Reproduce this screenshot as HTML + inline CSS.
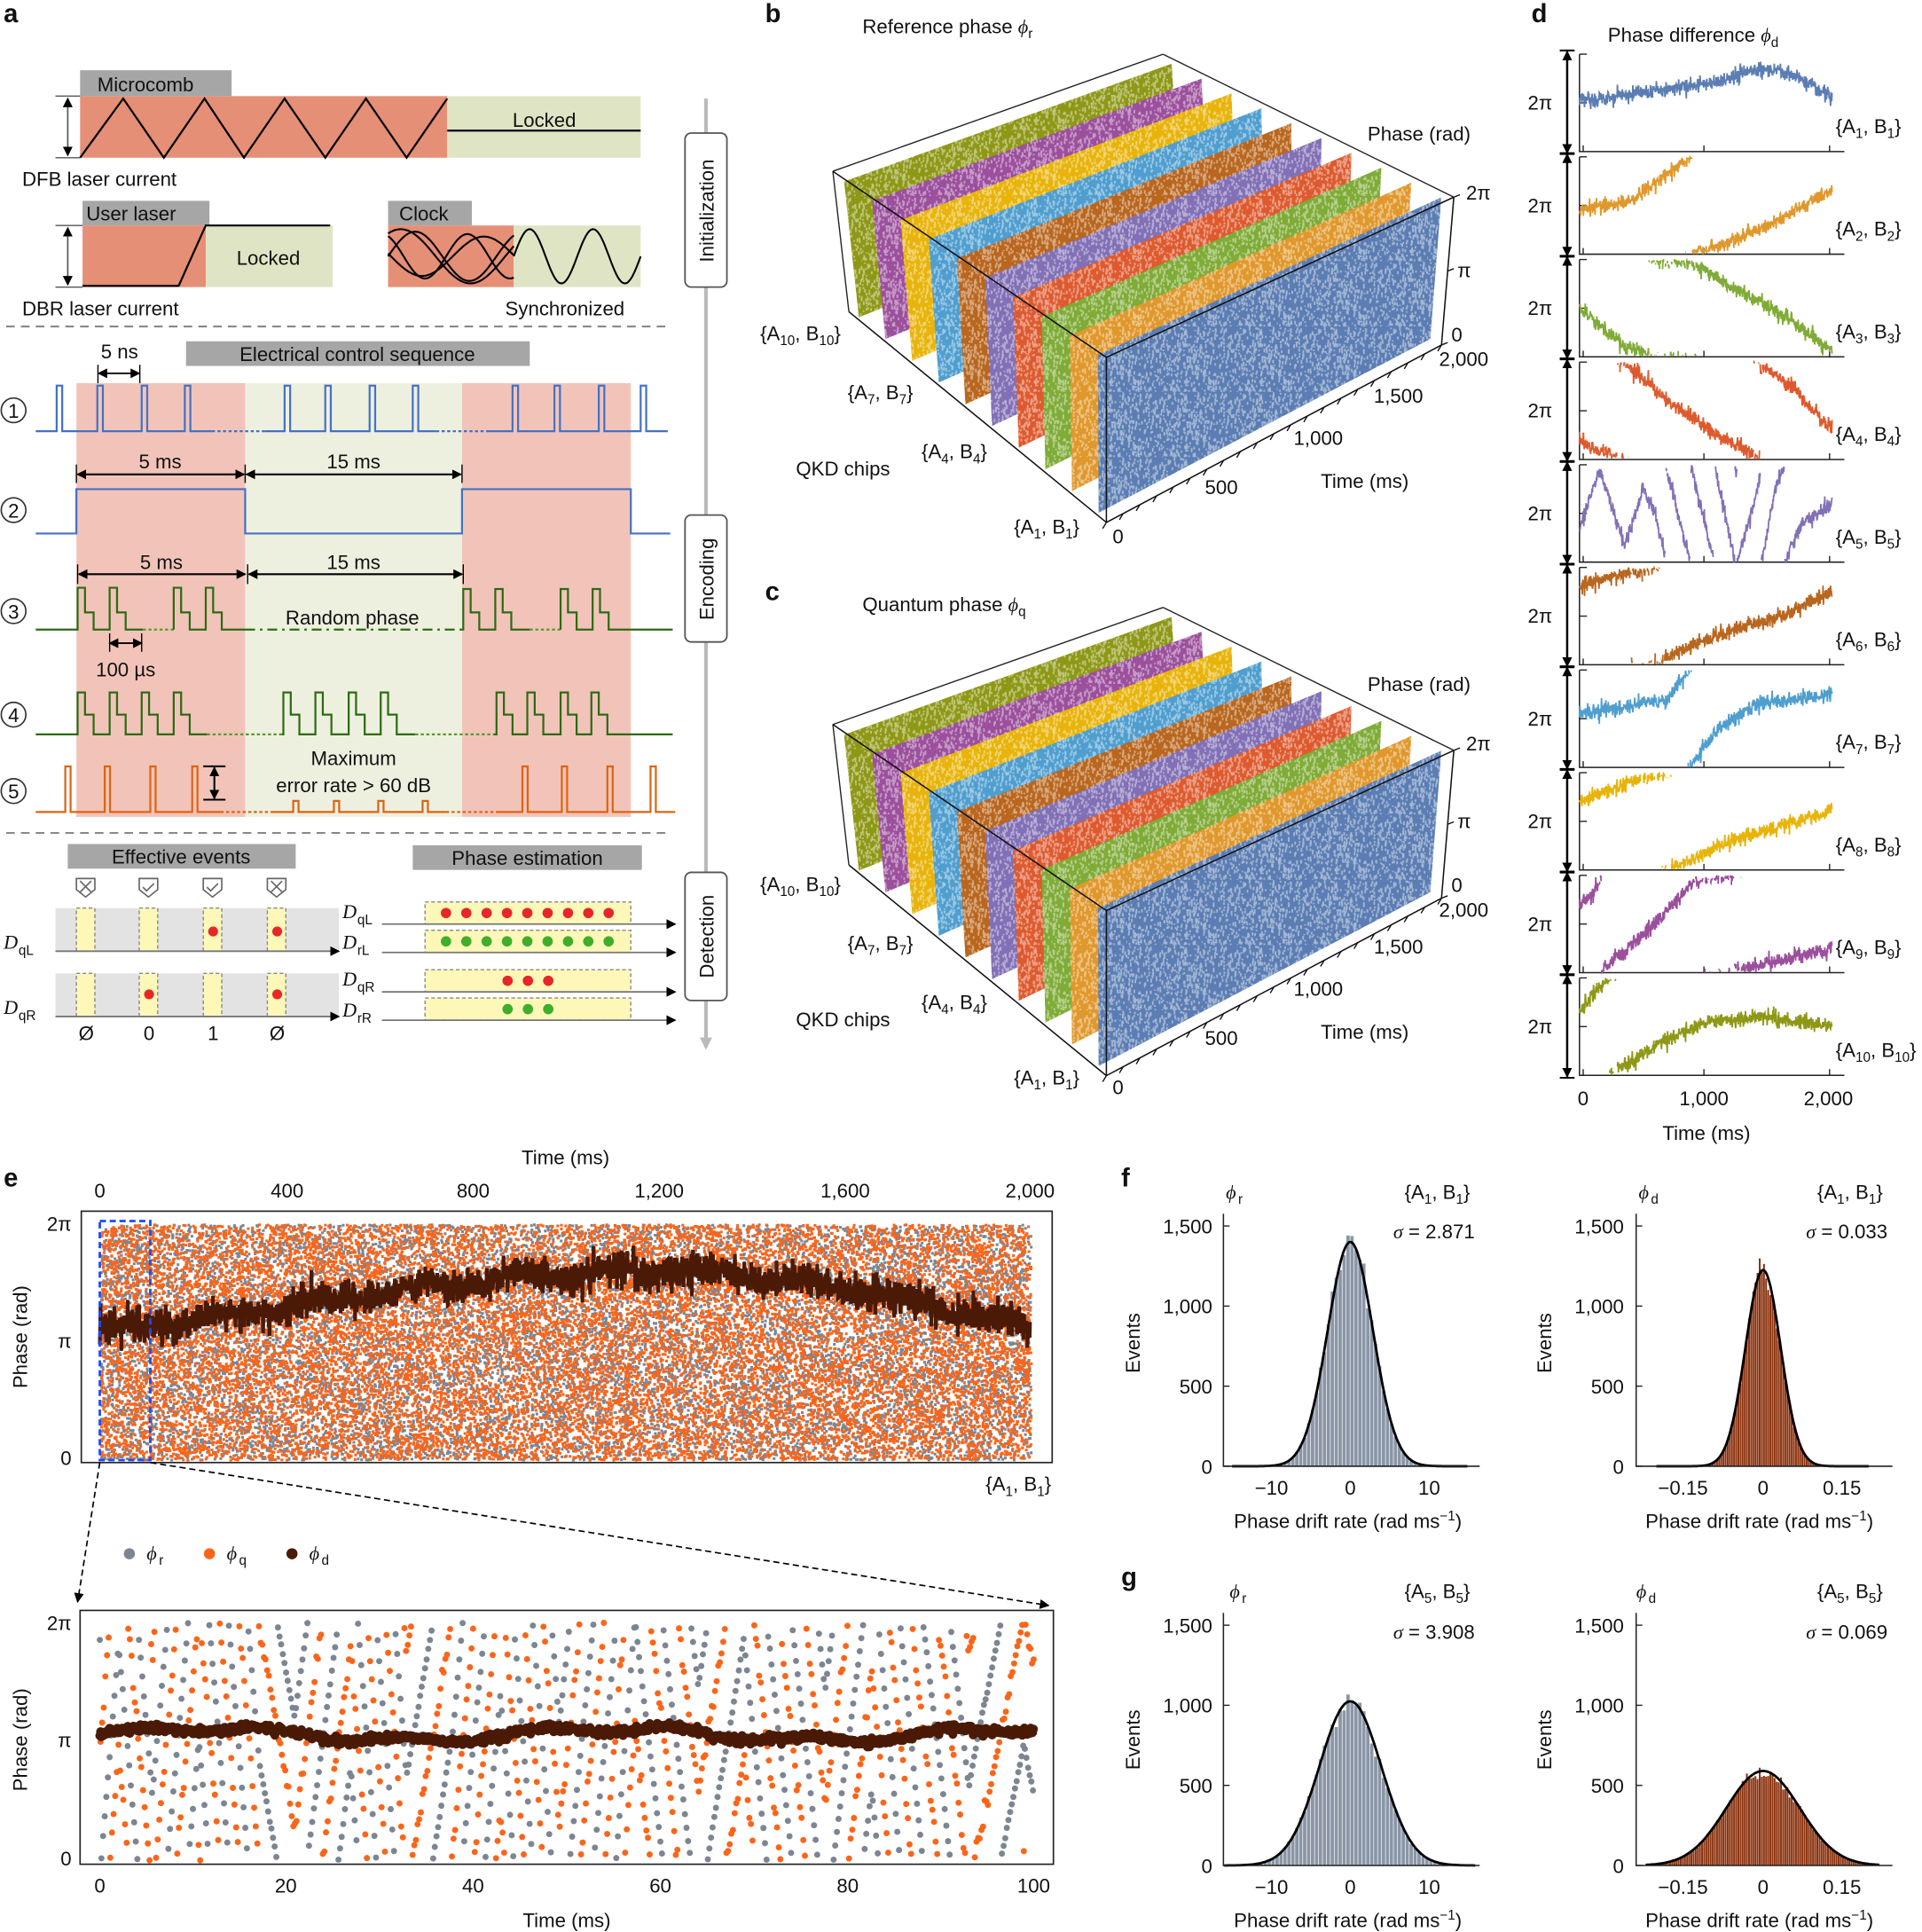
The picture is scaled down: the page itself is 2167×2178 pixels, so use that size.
<!DOCTYPE html>
<html><head><meta charset="utf-8">
<style>
html,body{margin:0;padding:0;background:#fff}
svg{display:block}
text{font-family:"Liberation Sans",sans-serif;fill:#111}
.t{font-size:16px}
.s{font-size:11px}
.b{font-size:21px;font-weight:bold}
.it{font-family:"Liberation Serif",serif;font-style:italic}
</style></head><body>
<svg id="S" xmlns="http://www.w3.org/2000/svg" width="2167" height="2178" viewBox="0 0 1560 1568" preserveAspectRatio="none">
<defs>
<marker id="ah" markerWidth="8" markerHeight="8" refX="7" refY="4" orient="auto-start-reverse" markerUnits="userSpaceOnUse"><path d="M0,0 L8,4 L0,8 z" fill="#000"/></marker>
<marker id="ahg" markerWidth="10" markerHeight="10" refX="8" refY="5" orient="auto" markerUnits="userSpaceOnUse"><path d="M0,0 L10,5 L0,10 z" fill="#bbb"/></marker>
<pattern id="nz" width="61" height="53" patternUnits="userSpaceOnUse"><g id="nzg"></g></pattern>
</defs>
<rect width="1560" height="1568" fill="#fff"/>

<!-- ========== Panel a ========== -->
<text class="b" x="3" y="18">a</text>
<rect x="65" y="57" width="123" height="21" fill="#a6a6a6"/>
<text class="t" x="79" y="74">Microcomb</text>
<rect x="65" y="78" width="298" height="50" fill="#e58f76"/>
<rect x="363" y="78" width="157" height="50" fill="#dfe5c4"/>
<polyline points="65,128 100,80 133,128 166,80 198,128 231,80 264,128 297,80 330,128 363,80" fill="none" stroke="#000" stroke-width="1.6"/>
<line x1="363" y1="106" x2="520" y2="106" stroke="#000" stroke-width="1.6"/>
<text class="t" x="416" y="103">Locked</text>
<line x1="55" y1="80" x2="55" y2="126" stroke="#555" stroke-width="1.2" marker-start="url(#ah)" marker-end="url(#ah)"/>
<line x1="45" y1="78" x2="65" y2="78" stroke="#555"/><line x1="45" y1="128" x2="65" y2="128" stroke="#555"/>
<text class="t" x="18" y="151">DFB laser current</text>

<rect x="67" y="163" width="103" height="20" fill="#a6a6a6"/>
<text class="t" x="70" y="179">User laser</text>
<rect x="67" y="183" width="100" height="50" fill="#e58f76"/>
<rect x="167" y="183" width="103" height="50" fill="#dfe5c4"/>
<polyline points="67,232 145,232 167,183 268,183" fill="none" stroke="#000" stroke-width="1.6"/>
<text class="t" x="192" y="215">Locked</text>
<line x1="55" y1="185" x2="55" y2="231" stroke="#555" stroke-width="1.2" marker-start="url(#ah)" marker-end="url(#ah)"/>
<line x1="45" y1="183" x2="67" y2="183" stroke="#555"/><line x1="45" y1="233" x2="67" y2="233" stroke="#555"/>
<text class="t" x="18" y="256">DBR laser current</text>

<rect x="315" y="163" width="68" height="20" fill="#a6a6a6"/>
<text class="t" x="324" y="179">Clock</text>
<rect x="315" y="183" width="102" height="50" fill="#e58f76"/>
<rect x="417" y="183" width="103" height="50" fill="#dfe5c4"/>
<g id="clk" fill="none" stroke="#000" stroke-width="1.5"></g>
<text class="t" x="410" y="256">Synchronized</text>
<line x1="5" y1="265" x2="545" y2="265" stroke="#888" stroke-width="1.5" stroke-dasharray="7,5"/>

<line x1="573" y1="80" x2="573" y2="850" stroke="#bbb" stroke-width="3" marker-end="url(#ahg)"/>
<rect x="556" y="108" width="34" height="125" rx="5" fill="#fff" stroke="#555" stroke-width="1.3"/>
<text class="t" transform="translate(579,171) rotate(-90)" text-anchor="middle">Initialization</text>
<rect x="556" y="418" width="34" height="103" rx="5" fill="#fff" stroke="#555" stroke-width="1.3"/>
<text class="t" transform="translate(579,470) rotate(-90)" text-anchor="middle">Encoding</text>
<rect x="556" y="708" width="34" height="104" rx="5" fill="#fff" stroke="#555" stroke-width="1.3"/>
<text class="t" transform="translate(579,760) rotate(-90)" text-anchor="middle">Detection</text>

<rect x="62" y="311" width="137" height="352" fill="#f2c4b9"/>
<rect x="199" y="311" width="176" height="352" fill="#eef0df"/>
<rect x="375" y="311" width="137" height="352" fill="#f2c4b9"/>
<rect x="151" y="277" width="279" height="20" fill="#a6a6a6"/>
<text class="t" x="290" y="293" text-anchor="middle">Electrical control sequence</text>
<text class="t" x="97" y="291" text-anchor="middle">5 ns</text>
<line x1="80" y1="303" x2="113" y2="303" stroke="#000" stroke-width="1.3" marker-start="url(#ah)" marker-end="url(#ah)"/>
<line x1="79.5" y1="296" x2="79.5" y2="311" stroke="#000"/><line x1="113.5" y1="296" x2="113.5" y2="311" stroke="#000"/>
<g id="rows" fill="none" stroke-width="1.6"></g>
<text class="t" x="130" y="380" text-anchor="middle">5 ms</text>
<text class="t" x="287" y="380" text-anchor="middle">15 ms</text>
<line x1="63" y1="385" x2="198" y2="385" stroke="#000" stroke-width="1.5" marker-start="url(#ah)" marker-end="url(#ah)"/>
<line x1="200" y1="385" x2="374" y2="385" stroke="#000" stroke-width="1.5" marker-start="url(#ah)" marker-end="url(#ah)"/>
<line x1="62" y1="377" x2="62" y2="392" stroke="#000"/><line x1="199" y1="377" x2="199" y2="392" stroke="#000"/><line x1="375" y1="377" x2="375" y2="392" stroke="#000"/>
<text class="t" x="131" y="462" text-anchor="middle">5 ms</text>
<text class="t" x="287" y="462" text-anchor="middle">15 ms</text>
<line x1="64" y1="466" x2="199" y2="466" stroke="#000" stroke-width="1.5" marker-start="url(#ah)" marker-end="url(#ah)"/>
<line x1="202" y1="466" x2="375" y2="466" stroke="#000" stroke-width="1.5" marker-start="url(#ah)" marker-end="url(#ah)"/>
<line x1="63" y1="458" x2="63" y2="474" stroke="#000"/><line x1="201" y1="458" x2="201" y2="474" stroke="#000"/><line x1="376" y1="458" x2="376" y2="474" stroke="#000"/>
<text class="t" x="286" y="507" text-anchor="middle">Random phase</text>
<line x1="89" y1="522" x2="115" y2="522" stroke="#000" stroke-width="1.3" marker-start="url(#ah)" marker-end="url(#ah)"/>
<line x1="89" y1="514" x2="89" y2="529" stroke="#000"/><line x1="115" y1="514" x2="115" y2="529" stroke="#000"/>
<text class="t" x="102" y="549" text-anchor="middle">100 µs</text>
<text class="t" x="287" y="621" text-anchor="middle">Maximum</text>
<text class="t" x="287" y="643" text-anchor="middle">error rate &gt; 60 dB</text>
<line x1="174" y1="623" x2="174" y2="648" stroke="#000" stroke-width="1.5" marker-start="url(#ah)" marker-end="url(#ah)"/>
<line x1="165" y1="622" x2="183" y2="622" stroke="#000" stroke-width="1.5"/><line x1="165" y1="649" x2="183" y2="649" stroke="#000" stroke-width="1.5"/>
<g fill="#fff" stroke="#333" stroke-width="1.2">
<circle cx="11" cy="333" r="10"/><circle cx="11" cy="414" r="10"/><circle cx="11" cy="496" r="10"/><circle cx="11" cy="580" r="10"/><circle cx="11" cy="642" r="10"/></g>
<g class="t" text-anchor="middle"><text x="11" y="339">1</text><text x="11" y="420">2</text><text x="11" y="502">3</text><text x="11" y="586">4</text><text x="11" y="648">5</text></g>
<line x1="5" y1="676" x2="545" y2="676" stroke="#888" stroke-width="1.5" stroke-dasharray="7,5"/>

<rect x="55" y="685" width="185" height="20" fill="#a6a6a6"/>
<text class="t" x="147" y="701" text-anchor="middle">Effective events</text>
<rect x="335" y="686" width="186" height="20" fill="#a6a6a6"/>
<text class="t" x="428" y="702" text-anchor="middle">Phase estimation</text>
<rect x="45" y="737" width="230" height="35" fill="#e3e3e3"/>
<rect x="45" y="790" width="230" height="35" fill="#e3e3e3"/>
<g fill="#fdf8b8" stroke="#888" stroke-dasharray="3,2">
<rect x="62" y="737" width="15" height="35"/><rect x="113" y="737" width="15" height="35"/><rect x="165" y="737" width="15" height="35"/><rect x="217" y="737" width="15" height="35"/>
<rect x="62" y="790" width="15" height="35"/><rect x="113" y="790" width="15" height="35"/><rect x="165" y="790" width="15" height="35"/><rect x="217" y="790" width="15" height="35"/></g>
<g fill="#e8262a"><circle cx="173" cy="756" r="4"/><circle cx="225" cy="756" r="4"/><circle cx="121" cy="807" r="4"/><circle cx="225" cy="807" r="4"/></g>
<g fill="none" stroke="#666" stroke-width="1.2">
<path d="M62,713 h15 v9 l-7.5,6 l-7.5,-6z M65,715 l9,9 M74,715 l-9,9"/>
<path d="M113,713 h15 v9 l-7.5,6 l-7.5,-6z M116,720 l3,3 l6,-6"/>
<path d="M165,713 h15 v9 l-7.5,6 l-7.5,-6z M168,720 l3,3 l6,-6"/>
<path d="M217,713 h15 v9 l-7.5,6 l-7.5,-6z M220,715 l9,9 M229,715 l-9,9"/></g>
<line x1="45" y1="772" x2="275" y2="772" stroke="#777" stroke-width="1.3" marker-end="url(#ah)"/>
<line x1="45" y1="825" x2="275" y2="825" stroke="#777" stroke-width="1.3" marker-end="url(#ah)"/>
<text class="t it" x="3" y="770">D</text><text class="s" x="15" y="775">qL</text>
<text class="t it" x="3" y="823">D</text><text class="s" x="15" y="828">qR</text>
<g class="t" text-anchor="middle"><text x="70" y="844">Ø</text><text x="121" y="844">0</text><text x="173" y="844">1</text><text x="225" y="844">Ø</text></g>
<g fill="#fdf8b8" stroke="#888" stroke-dasharray="3,2">
<rect x="345" y="732" width="167" height="18"/><rect x="345" y="755" width="167" height="18"/>
<rect x="345" y="787" width="167" height="18"/><rect x="345" y="810" width="167" height="18"/></g>
<g stroke="#777" stroke-width="1.3"><line x1="310" y1="750" x2="548" y2="750" marker-end="url(#ah)"/><line x1="310" y1="773" x2="548" y2="773" marker-end="url(#ah)"/><line x1="310" y1="805" x2="548" y2="805" marker-end="url(#ah)"/><line x1="310" y1="828" x2="548" y2="828" marker-end="url(#ah)"/></g>
<g id="detdots"></g>
<text class="t it" x="278" y="745">D</text><text class="s" x="290" y="750">qL</text>
<text class="t it" x="278" y="770">D</text><text class="s" x="290" y="775">rL</text>
<text class="t it" x="278" y="800">D</text><text class="s" x="290" y="805">qR</text>
<text class="t it" x="278" y="825">D</text><text class="s" x="290" y="830">rR</text>

<!-- ========== Panels b, c ========== -->
<text class="b" x="621" y="18">b</text>
<text class="t" x="700" y="27">Reference phase <tspan class="it">ϕ</tspan><tspan class="s" dy="4">r</tspan></text>
<text class="b" x="621" y="487">c</text>
<text class="t" x="700" y="496">Quantum phase <tspan class="it">ϕ</tspan><tspan class="s" dy="4">q</tspan></text>
<g id="b3d"></g>
<g id="c3d" transform="translate(0,449)"></g>
<g id="lab3d">
<text class="t" x="1110" y="114">Phase (rad)</text>
<text class="t" x="1190" y="162">2π</text><text class="t" x="1183" y="225">π</text><text class="t" x="1178" y="277">0</text>
<text class="t" x="1168" y="297">2,000</text><text class="t" x="1115" y="327">1,500</text><text class="t" x="1050" y="361">1,000</text><text class="t" x="978" y="401">500</text><text class="t" x="903" y="441">0</text>
<text class="t" x="1072" y="396">Time (ms)</text>
<text class="t" x="646" y="386">QKD chips</text>
<text class="t" x="617" y="276">{A<tspan class="s" dy="4">10</tspan><tspan dy="-4">, B</tspan><tspan class="s" dy="4">10</tspan><tspan dy="-4">}</tspan></text>
<text class="t" x="688" y="324">{A<tspan class="s" dy="4">7</tspan><tspan dy="-4">, B</tspan><tspan class="s" dy="4">7</tspan><tspan dy="-4">}</tspan></text>
<text class="t" x="748" y="372">{A<tspan class="s" dy="4">4</tspan><tspan dy="-4">, B</tspan><tspan class="s" dy="4">4</tspan><tspan dy="-4">}</tspan></text>
<text class="t" x="823" y="433">{A<tspan class="s" dy="4">1</tspan><tspan dy="-4">, B</tspan><tspan class="s" dy="4">1</tspan><tspan dy="-4">}</tspan></text>
</g>

<!-- ========== Panel d ========== -->
<text class="b" x="1243" y="18">d</text>
<text class="t" x="1305" y="34">Phase difference <tspan class="it">ϕ</tspan><tspan class="s" dy="4">d</tspan></text>
<g id="pd"></g>
<g class="t" text-anchor="middle"><text x="1285" y="897">0</text><text x="1383" y="897">1,000</text><text x="1484" y="897">2,000</text></g>
<text class="t" x="1385" y="925" text-anchor="middle">Time (ms)</text>

<!-- ========== Panel e ========== -->
<text class="b" x="3" y="963">e</text>
<text class="t" x="459" y="945" text-anchor="middle">Time (ms)</text>
<g class="t" text-anchor="middle"><text x="81" y="972">0</text><text x="233" y="972">400</text><text x="384" y="972">800</text><text x="535" y="972">1,200</text><text x="686" y="972">1,600</text><text x="836" y="972">2,000</text></g>
<g id="etop"></g>
<rect x="66" y="983" width="788" height="204" fill="none" stroke="#222" stroke-width="1.2"/>
<g class="t" text-anchor="end"><text x="58" y="999">2π</text><text x="58" y="1094">π</text><text x="58" y="1189">0</text></g>
<text class="t" transform="translate(22,1085) rotate(-90)" text-anchor="middle">Phase (rad)</text>
<text class="t" x="800" y="1210">{A<tspan class="s" dy="4">1</tspan><tspan dy="-4">, B</tspan><tspan class="s" dy="4">1</tspan><tspan dy="-4">}</tspan></text>
<rect x="81" y="991" width="41" height="194" fill="none" stroke="#1a4cff" stroke-width="2" stroke-dasharray="5,3"/>
<line x1="81" y1="1187" x2="63" y2="1300" stroke="#000" stroke-width="1.2" stroke-dasharray="5,3" marker-end="url(#ah)"/>
<line x1="122" y1="1187" x2="851" y2="1303" stroke="#000" stroke-width="1.2" stroke-dasharray="5,3" marker-end="url(#ah)"/>
<circle cx="105" cy="1261" r="4.5" fill="#7c8592"/><text class="t it" x="119" y="1266">ϕ</text><text class="s" x="129" y="1270">r</text>
<circle cx="170" cy="1261" r="4.5" fill="#fb6519"/><text class="t it" x="184" y="1266">ϕ</text><text class="s" x="194" y="1270">q</text>
<circle cx="237" cy="1261" r="4.5" fill="#4a1a06"/><text class="t it" x="251" y="1266">ϕ</text><text class="s" x="261" y="1270">d</text>
<g id="ebot"></g>
<rect x="65" y="1307" width="790" height="206" fill="none" stroke="#222" stroke-width="1.2"/>
<g class="t" text-anchor="end"><text x="58" y="1323">2π</text><text x="58" y="1418">π</text><text x="58" y="1514">0</text></g>
<text class="t" transform="translate(22,1412) rotate(-90)" text-anchor="middle">Phase (rad)</text>
<g class="t" text-anchor="middle"><text x="81" y="1536">0</text><text x="232" y="1536">20</text><text x="384" y="1536">40</text><text x="536" y="1536">60</text><text x="688" y="1536">80</text><text x="839" y="1536">100</text></g>
<text class="t" x="460" y="1564" text-anchor="middle">Time (ms)</text>

<!-- ========== Panels f, g ========== -->
<text class="b" x="910" y="963">f</text>
<text class="b" x="910" y="1287">g</text>
<g id="hist"></g>
<g class="t">
<text class="it" x="995" y="973">ϕ</text><text class="s" x="1005" y="977">r</text>
<text x="1140" y="973">{A<tspan class="s" dy="4">1</tspan><tspan dy="-4">, B</tspan><tspan class="s" dy="4">1</tspan><tspan dy="-4">}</tspan></text>
<text x="1197" y="1005" text-anchor="end"><tspan class="it">σ</tspan> = 2.871</text>
<text class="it" x="1330" y="973">ϕ</text><text class="s" x="1340" y="977">d</text>
<text x="1475" y="973">{A<tspan class="s" dy="4">1</tspan><tspan dy="-4">, B</tspan><tspan class="s" dy="4">1</tspan><tspan dy="-4">}</tspan></text>
<text x="1532" y="1005" text-anchor="end"><tspan class="it">σ</tspan> = 0.033</text>
<text class="it" x="998" y="1297">ϕ</text><text class="s" x="1008" y="1301">r</text>
<text x="1140" y="1297">{A<tspan class="s" dy="4">5</tspan><tspan dy="-4">, B</tspan><tspan class="s" dy="4">5</tspan><tspan dy="-4">}</tspan></text>
<text x="1197" y="1330" text-anchor="end"><tspan class="it">σ</tspan> = 3.908</text>
<text class="it" x="1328" y="1297">ϕ</text><text class="s" x="1338" y="1301">d</text>
<text x="1475" y="1297">{A<tspan class="s" dy="4">5</tspan><tspan dy="-4">, B</tspan><tspan class="s" dy="4">5</tspan><tspan dy="-4">}</tspan></text>
<text x="1532" y="1330" text-anchor="end"><tspan class="it">σ</tspan> = 0.069</text>
</g>
<g class="t" text-anchor="end">
<text x="984" y="1001">1,500</text><text x="984" y="1066">1,000</text><text x="984" y="1131">500</text><text x="984" y="1196">0</text>
<text x="1318" y="1001">1,500</text><text x="1318" y="1066">1,000</text><text x="1318" y="1131">500</text><text x="1318" y="1196">0</text>
<text x="984" y="1325">1,500</text><text x="984" y="1390">1,000</text><text x="984" y="1455">500</text><text x="984" y="1520">0</text>
<text x="1318" y="1325">1,500</text><text x="1318" y="1390">1,000</text><text x="1318" y="1455">500</text><text x="1318" y="1520">0</text>
</g>
<g class="t" text-anchor="middle">
<text x="1032" y="1213">−10</text><text x="1096" y="1213">0</text><text x="1160" y="1213">10</text>
<text x="1366" y="1213">−0.15</text><text x="1431" y="1213">0</text><text x="1495" y="1213">0.15</text>
<text x="1032" y="1537">−10</text><text x="1096" y="1537">0</text><text x="1160" y="1537">10</text>
<text x="1366" y="1537">−0.15</text><text x="1431" y="1537">0</text><text x="1495" y="1537">0.15</text>
<text x="1094" y="1240">Phase drift rate (rad ms<tspan class="s" dy="-6">−1</tspan><tspan dy="6">)</tspan></text>
<text x="1428" y="1240">Phase drift rate (rad ms<tspan class="s" dy="-6">−1</tspan><tspan dy="6">)</tspan></text>
<text x="1094" y="1564">Phase drift rate (rad ms<tspan class="s" dy="-6">−1</tspan><tspan dy="6">)</tspan></text>
<text x="1428" y="1564">Phase drift rate (rad ms<tspan class="s" dy="-6">−1</tspan><tspan dy="6">)</tspan></text>
</g>
<text class="t" transform="translate(925,1090) rotate(-90)" text-anchor="middle">Events</text>
<text class="t" transform="translate(1259,1090) rotate(-90)" text-anchor="middle">Events</text>
<text class="t" transform="translate(925,1412) rotate(-90)" text-anchor="middle">Events</text>
<text class="t" transform="translate(1259,1412) rotate(-90)" text-anchor="middle">Events</text>
</svg>
<script>
(function(){
function R(s){return function(){s|=0;s=s+0x6D2B79F5|0;var t=Math.imul(s^s>>>15,1|s);t=t+Math.imul(t^t>>>7,61|t)^t;return((t^t>>>14)>>>0)/4294967296}}
var r=R(12345);
function gn(){var u=r()||1e-9,v=r();return Math.sqrt(-2*Math.log(u))*Math.cos(6.2832*v)}
function A(id,h){document.getElementById(id).insertAdjacentHTML('beforeend',h)}
var PI=Math.PI;
var h='';
[[14,20],[18,22],[11,18],[16,16]].forEach(function(p,k){var d='M';for(var x=315;x<=417;x+=1){d+=x+','+(208-p[1]*Math.sin((x-315)/p[0]+k)).toFixed(1)+' ';}h+='<path d="'+d+'"/>';});
var d='M';for(var x=417;x<=520;x+=1){d+=x+','+(208-22*Math.sin((x-417)/8.2)).toFixed(1)+' ';}h+='<path d="'+d+'"/>';
A('clk',h);
h='';
function pulses(list,b,t,w){var s='';list.forEach(function(x){s+=' L'+x+','+b+' L'+x+','+t+' L'+(x+w)+','+t+' L'+(x+w)+','+b;});return s;}
var B='#4472c4',G='#2d6a15',O='#dd6414';
h+='<path stroke="'+B+'" d="M29,350'+pulses([46,79,115,150],350,313,4.5)+' L172,350"/>';
h+='<path stroke="'+B+'" stroke-dasharray="2.5,2" d="M172,350 L215,350"/>';
h+='<path stroke="'+B+'" d="M215,350'+pulses([231,264,300,335],350,313,4.5)+' L354,350"/>';
h+='<path stroke="'+B+'" stroke-dasharray="2.5,2" d="M354,350 L397,350"/>';
h+='<path stroke="'+B+'" d="M397,350'+pulses([416,450,486,520],350,313,4.5)+' L542,350"/>';
h+='<path stroke="'+B+'" d="M29,433 L62,433 L62,397 L199,397 L199,433 L375,433 L375,397 L512,397 L512,433 L544,433"/>';
function stp(list,b,t,m){var s='';list.forEach(function(x){s+=' L'+x+','+b+' L'+x+','+t+' L'+(x+6)+','+t+' L'+(x+6)+','+m+' L'+(x+13)+','+m+' L'+(x+13)+','+b;});return s;}
h+='<path stroke="'+G+'" d="M29,511'+stp([63,89],511,477,497)+' L116,511"/>';
h+='<path stroke="#5a9a30" stroke-dasharray="2.5,2" d="M116,511 L141,511"/>';
h+='<path stroke="'+G+'" d="M141,511'+stp([141,167],511,477,497)+' L199,511"/>';
h+='<path stroke="'+G+'" stroke-dasharray="8,4,2,4" d="M199,511 L375,511"/>';
h+='<path stroke="'+G+'" d="M375,511'+stp([376,402],511,478,497)+' L430,511"/>';
h+='<path stroke="#5a9a30" stroke-dasharray="2.5,2" d="M430,511 L455,511"/>';
h+='<path stroke="'+G+'" d="M455,511'+stp([455,481],511,478,497)+' L546,511"/>';
h+='<path stroke="'+G+'" d="M29,596'+stp([63,89,115,141],596,562,580)+' L168,596"/>';
h+='<path stroke="#5a9a30" stroke-dasharray="2.5,2" d="M168,596 L229,596"/>';
h+='<path stroke="'+G+'" d="M229,596'+stp([230,256,283,309],596,562,580)+' L337,596"/>';
h+='<path stroke="#5a9a30" stroke-dasharray="2.5,2" d="M337,596 L401,596"/>';
h+='<path stroke="'+G+'" d="M401,596'+stp([403,428,455,480],596,562,580)+' L546,596"/>';
h+='<path stroke="'+O+'" d="M29,659'+pulses([53,85,122,156],659,622,4.3)+' L179,659"/>';
h+='<path stroke="'+O+'" stroke-dasharray="2.5,2" d="M179,659 L220,659"/>';
h+='<path stroke="'+O+'" d="M220,659'+pulses([238,271,307,343],659,650,4.3)+' L362,659"/>';
h+='<path stroke="'+O+'" stroke-dasharray="2.5,2" d="M362,659 L405,659"/>';
h+='<path stroke="'+O+'" d="M405,659'+pulses([424,456,493,528],659,622,4.3)+' L548,659"/>';
A('rows',h);
h='';
function star(cx,cy,c){return '<circle cx="'+cx+'" cy="'+cy+'" r="4.2" fill="'+c+'"/>';}
for(var i=0;i<9;i++){h+=star(362+i*16.5,741,'#e8262a');h+=star(362+i*16.5,764,'#3fae2a');}
for(var i=0;i<3;i++){h+=star(412+i*16.5,796,'#e8262a');h+=star(412+i*16.5,819,'#3fae2a');}
A('detdots',h);
// noise pattern (irregular)
h='';for(var i=0;i<420;i++){h+='<rect x="'+(r()*61).toFixed(1)+'" y="'+(r()*53).toFixed(1)+'" width="1.3" height="'+(1+r()*2.5).toFixed(1)+'" fill="#fff"/>';}
A('nzg',h);
// 3D
var C={bfl:[898,424],tfl:[898,290],bfr:[1170,280],tfr:[1180,160],bbl:[689,253],tbl:[676,139],bbr:[952,150],tbr:[944,44]};
function L(a,b,f){return [a[0]+(b[0]-a[0])*f,a[1]+(b[1]-a[1])*f];}
function P(t,dd,hh){var bf=L(C.bfl,C.bfr,t),tf=L(C.tfl,C.tfr,t),bb=L(C.bbl,C.bbr,t),tb=L(C.tbl,C.tbr,t);
 var f=L(bf,tf,hh),b=L(bb,tb,hh);return L(f,b,dd);}
function pt(p){return p[0].toFixed(1)+','+p[1].toFixed(1);}
var cols=['#5b7db3','#e0982c','#7fab37','#de5a2e','#8270b6','#b9661e','#4f9ecf','#e8b40b','#9b4f9c','#8e9816'];
function build(id){var s='';
 s+='<line x1="'+C.tbl[0]+'" y1="'+C.tbl[1]+'" x2="'+C.tbr[0]+'" y2="'+C.tbr[1]+'" stroke="#222"/>';
 s+='<line x1="'+C.tbl[0]+'" y1="'+C.tbl[1]+'" x2="'+C.bbl[0]+'" y2="'+C.bbl[1]+'" stroke="#222"/>';
 s+='<line x1="'+C.tbr[0]+'" y1="'+C.tbr[1]+'" x2="'+C.tfr[0]+'" y2="'+C.tfr[1]+'" stroke="#222"/>';
 for(var i=9;i>=0;i--){var dd=0.03+i/9*0.93;
  var poly=pt(P(0,dd,0.02))+' '+pt(P(0.99,dd,0.02))+' '+pt(P(0.99,dd,0.98))+' '+pt(P(0,dd,0.98));
  s+='<polygon points="'+poly+'" fill="'+cols[i]+'"/><polygon points="'+poly+'" fill="url(#nz)" opacity="0.45"/>';}
 var e=[['tbl','tfl'],['tfl','tfr'],['tfl','bfl'],['bfl','bfr'],['bfr','tfr'],['bbl','bfl']];
 e.forEach(function(q){s+='<line x1="'+C[q[0]][0]+'" y1="'+C[q[0]][1]+'" x2="'+C[q[1]][0]+'" y2="'+C[q[1]][1]+'" stroke="#111" stroke-width="1.1"/>';});
 for(var k=0;k<=20;k++){var a=P(k/20,0,0);s+='<line x1="'+a[0]+'" y1="'+a[1]+'" x2="'+(a[0]-3)+'" y2="'+(a[1]+5)+'" stroke="#111"/>';}
 for(var k=0;k<=2;k++){var a=P(1,0,k/2);s+='<line x1="'+a[0]+'" y1="'+a[1]+'" x2="'+(a[0]+5)+'" y2="'+(a[1]-2)+'" stroke="#111"/>';}
 A(id,s);}
build('b3d');build('c3d');
var lab=document.getElementById('lab3d');var cl=lab.cloneNode(true);cl.removeAttribute('id');cl.setAttribute('transform','translate(0,447)');lab.parentNode.insertBefore(cl,lab.nextSibling);
// panel d
var kp=[
[[0,.52],[.3,.62],[.55,.72],[.72,.86],[.85,.78],[1,.55]],
[[0,.45],[.2,.55],[.4,.93],[.45,1.02],[.55,1.08],[.75,1.3],[1,1.65]],
[[0,1.5],[.18,1.1],[.3,1.0],[.45,0.97],[.6,.72],[.8,.45],[1,.06]],
[[0,2.2],[.2,1.95],[.35,1.6],[.55,1.25],[.68,1.05],[.72,.97],[.85,.72],[1,.3]],
[[0,.35],[.08,.95],[.18,.15],[.25,.75],[.3,.5],[.36,-.2],[.45,-1.1],[.55,-2.2],[.62,-3.05],[.7,-2.3],[.78,-1.2],[.88,-.6],[1,-.4]],
[[0,.8],[.15,.92],[.3,1.0],[.4,1.15],[.6,1.35],[.8,1.5],[1,1.75]],
[[0,.55],[.35,.7],[.37,.78],[.45,1.05],[.55,1.4],[.7,1.65],[1,1.75]],
[[0,.7],[.25,.95],[.4,1.05],[.6,1.3],[.8,1.45],[1,1.62]],
[[0,.7],[.05,.8],[.1,1.05],[.3,1.5],[.45,1.95],[.6,2.0],[.75,2.1],[1,2.25]],
[[0,.65],[.06,.85],[.12,1.0],[.3,1.3],[.5,1.55],[.7,1.6],[1,1.5]]];
h='';
for(var i=0;i<10;i++){var yT=44+83.3*i,yB=yT+79,x0=1282,x1=1487;
 h+='<path d="M'+x0+','+yT+' L'+x0+','+yB+' L1497,'+yB+'" fill="none" stroke="#222" stroke-width="1.1"/>';
 h+='<path d="M'+x0+','+yT+' h6 M'+x0+','+((yT+yB)/2)+' h6 M1285,'+yB+' v-5 M1383,'+yB+' v-5 M1485,'+yB+' v-5" stroke="#222"/>';
 h+='<line x1="1272" y1="'+(yT-2)+'" x2="1272" y2="'+(yB+1)+'" stroke="#000" stroke-width="1.8" marker-start="url(#ah)" marker-end="url(#ah)"/>';
 h+='<path d="M1266,'+(yT-3)+' h12 M1266,'+(yB+2)+' h12" stroke="#000" stroke-width="1.5"/>';
 h+='<text class="t" x="1240" y="'+(yT+45)+'">2π</text>';
 h+='<text class="t" x="1490" y="'+(yT+64)+'">{A<tspan class="s" dy="4">'+(i+1)+'</tspan><tspan dy="-4">, B</tspan><tspan class="s" dy="4">'+(i+1)+'</tspan><tspan dy="-4">}</tspan></text>';
 var k=kp[i],N=700,seg='',prev=null;
 for(var n=0;n<=N;n++){var t=n/N,j=0;while(j<k.length-2&&t>k[j+1][0])j++;
  var f=k[j][1]+(k[j+1][1]-k[j][1])*(t-k[j][0])/(k[j+1][0]-k[j][0]);f+=gn()*0.04;
  var w=((f%1)+1)%1;var y=yB-w*(yB-yT),x=x0+t*(x1-x0);
  if(prev!==null&&Math.abs(w-prev)>0.5){seg+=' M';}else if(n>0)seg+=' L';
  seg+=x.toFixed(1)+','+y.toFixed(1);prev=w;}
 h+='<path d="M'+seg.replace(/^ ?M?/,'')+'" fill="none" stroke="'+cols[i]+'" stroke-width="1.3"/>';}
A('pd',h);
// e top
h='';var ex0=81,ex1=836,ey0=1184,ey1=993;
var g1='',o1='';
for(var i=0;i<14000;i++){var x=ex0+r()*(ex1-ex0),y=ey1+r()*(ey0-ey1);g1+='M'+x.toFixed(1)+','+y.toFixed(1)+'h2.2v2.2h-2.2z';}
for(var i=0;i<17000;i++){var x=ex0+r()*(ex1-ex0),y=ey1+r()*(ey0-ey1);o1+='M'+x.toFixed(1)+','+y.toFixed(1)+'h2.2v2.2h-2.2z';}
h+='<path d="'+g1+'" fill="#7c8592"/><path d="'+o1+'" fill="#fb6519"/>';
var dp='';for(var n=0;n<=2500;n++){var t=n/2500;var f=1.1+0.5*Math.sin(PI*Math.pow(t,1.3))+0.04*Math.sin(t*60)+gn()*0.07;var x=ex0+t*(ex1-ex0),y=ey0-f/2*(ey0-ey1);dp+=(n?' L':'M')+x.toFixed(1)+','+y.toFixed(1);}
h+='<path d="'+dp+'" fill="none" stroke="#4a1a06" stroke-width="3"/>';
A('etop',h);
// e bottom
h='';var bx0=81,bx1=839,by0=1510,by1=1317;
var ph=r()*6.28,v=0,tl=0,gs='',os='',ds='';
for(var n=0;n<=4000;n++){var t=n/4000*100;
 if(t>=tl){v=(r()<0.5?-1:1)*(1.2+r()*2.2);tl=t+2+r()*5;}
 ph+=v*0.025+gn()*0.01;var pd=PI*(1.06+0.05*Math.sin(t/7)+0.03*Math.sin(t/2.3))+gn()*0.05;
 var x=bx0+t/100*(bx1-bx0);
 if(n%7==0){var w=((ph%6.2832)+6.2832)%6.2832;gs+='<circle cx="'+x.toFixed(1)+'" cy="'+(by0-w/6.2832*(by0-by1)).toFixed(1)+'" r="2.5"/>';}
 if(n%7==3){var q=((ph+pd+gn()*0.1)%6.2832+6.2832)%6.2832;os+='<circle cx="'+x.toFixed(1)+'" cy="'+(by0-q/6.2832*(by0-by1)).toFixed(1)+'" r="2.5"/>';}
 if(n%3==0)ds+='<circle cx="'+x.toFixed(1)+'" cy="'+(by0-pd/6.2832*(by0-by1)).toFixed(1)+'" r="3.6"/>';}
h+='<g fill="#7c8592">'+gs+'</g><g fill="#fb6519">'+os+'</g><g fill="#4a1a06">'+ds+'</g>';
A('ebot',h);
// histograms
h='';
function hist(ax,cx,base,pxu,sig,peak,bw,col,xmin,xmax){var s='';
 for(var u=xmin;u<xmax;u+=bw){var m=u+bw/2;var hh=peak*Math.exp(-m*m/(2*sig*sig))*(1+gn()*0.04);
  var x=cx+u*pxu,ht=hh*0.13;if(ht>0.3)s+='<rect x="'+x.toFixed(2)+'" y="'+(base-ht).toFixed(1)+'" width="'+(bw*pxu*0.85).toFixed(2)+'" height="'+ht.toFixed(1)+'" fill="'+col+'"/>';}
 var p='';for(var u=xmin;u<=xmax;u+=(xmax-xmin)/200){var hh=peak*Math.exp(-u*u/(2*sig*sig));p+=(p?' L':'M')+(cx+u*pxu).toFixed(1)+','+(base-hh*0.13).toFixed(1);}
 s+='<path d="'+p+'" fill="none" stroke="#000" stroke-width="2"/>';
 s+='<path d="M'+ax+','+(base-205)+' L'+ax+','+base+' L'+(ax+208)+','+base+'" fill="none" stroke="#222" stroke-width="1.1"/>';
 [0,500,1000,1500].forEach(function(e){s+='<line x1="'+ax+'" y1="'+(base-e*0.13)+'" x2="'+(ax+5)+'" y2="'+(base-e*0.13)+'" stroke="#222"/>';});
 return s;}
h+=hist(993,1096,1190,6.4,2.871,1400,0.5,'#8a96a6',-15,15);
h+=hist(1328,1431,1190,433,0.033,1225,0.004,'#8c3410',-0.2,0.2);
h+=hist(993,1096,1514,6.4,3.908,1025,0.5,'#8a96a6',-16,16);
h+=hist(1328,1431,1514,433,0.069,590,0.004,'#8c3410',-0.22,0.22);
A('hist',h);
})();
</script>
</body></html>
